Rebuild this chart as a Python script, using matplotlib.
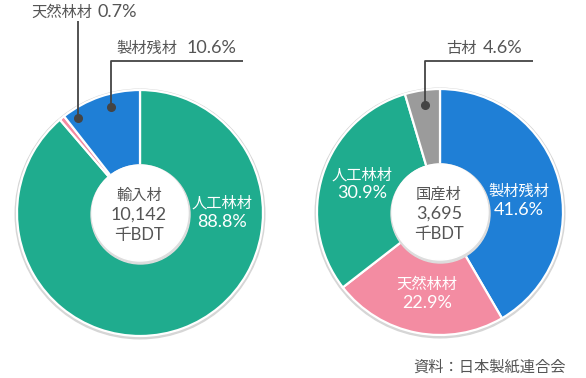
import matplotlib
matplotlib.use("Agg")
import matplotlib.pyplot as plt
from matplotlib.patches import Circle

CJK = ['Noto Sans CJK JP', 'DejaVu Sans']
LAT = ['Lato', 'Noto Sans CJK JP', 'DejaVu Sans']
plt.rcParams['font.family'] = CJK

# ---- data ----
left_labels = ['人工林材', '天然林材', '製材残材']
left_values = [88.8, 0.7, 10.6]
left_name = '輸入材'
left_total = '10,142'

right_labels = ['製材残材', '天然林材', '人工林材', '古材']
right_values = [41.6, 22.9, 30.9, 4.6]
right_name = '国産材'
right_total = '3,695'

unit = '千BDT'
source = '資料：日本製紙連合会'

# ---- style ----
C = {'人工林材': '#1fac8e', '天然林材': '#f38ca2', '製材残材': '#1f7fd6', '古材': '#9b9b9b'}
TXT = '#555555'
LINE = '#444444'
FS_J = 11
FS_N = 13

W, H = 586, 378
fig = plt.figure(figsize=(W / 100, H / 100), dpi=100)
ax = fig.add_axes([0, 0, 1, 1])

R = 123
HOLE = 48


def draw_pie(cx, cy, labels, values, name, total):
    ax.add_patch(Circle((cx, cy - 1), R + 1.8, color='#d6d6d6', zorder=1))
    ax.pie(values, colors=[C[l] for l in labels], startangle=90, counterclock=False,
           center=(cx, cy), radius=R,
           wedgeprops=dict(edgecolor='white', linewidth=1.6, zorder=2), frame=True)
    ax.add_patch(Circle((cx + 0.5, cy - 1.5), HOLE + 1.5, color='#dddddd', zorder=3))
    ax.add_patch(Circle((cx, cy), HOLE, color='white', zorder=4))
    ax.text(cx - 1, cy + 18, name, ha='center', va='center', fontsize=FS_J,
            color=TXT, family=CJK, zorder=5)
    ax.text(cx - 1, cy - 2, total, ha='center', va='center', fontsize=FS_N,
            color=TXT, family=LAT, zorder=5)
    ax.text(cx - 1, cy - 22, unit, ha='center', va='center', fontsize=12,
            color=TXT, family=LAT, zorder=5)


draw_pie(140, 165, left_labels, left_values, left_name, left_total)
draw_pie(440, 166, right_labels, right_values, right_name, right_total)


def inner(x, y, label, value, gap=19):
    ax.text(x, y + gap / 2, label, ha='center', va='center', fontsize=FS_J,
            color='white', family=CJK, zorder=5)
    ax.text(x, y - gap / 2, f'{value:.1f}%', ha='center', va='center', fontsize=FS_N,
            color='white', family=LAT, zorder=5)


inner(222, 165.5, left_labels[0], left_values[0])
inner(519, 177.5, right_labels[0], right_values[0])
inner(427, 84.5, right_labels[1], right_values[1])
inner(362, 194, right_labels[2], right_values[2], gap=18)


def callout(pts, label, value, tx, nx, ty):
    xs = [p[0] for p in pts]
    ys = [p[1] for p in pts]
    ax.plot(xs, ys, color=LINE, lw=1.3, zorder=6, solid_capstyle='butt')
    ax.plot([xs[0]], [ys[0]], 'o', color=LINE, ms=5.5, zorder=7)
    ax.text(tx, ty, label, ha='left', va='center', fontsize=FS_J, color=TXT,
            family=CJK, zorder=7)
    ax.text(nx, ty, f'{value:.1f}%', ha='left', va='center', fontsize=FS_N, color=TXT,
            family=LAT, zorder=7)


callout([(78, 378 - 118), (78, 378 - 21)], left_labels[1], left_values[1], 31, 97, 366)
callout([(111, 378 - 107), (111, 378 - 61), (243, 378 - 61)],
        left_labels[2], left_values[2], 116, 187, 330)
callout([(425, 378 - 105), (425, 378 - 61), (533, 378 - 61)],
        right_labels[3], right_values[3], 446, 483, 330)

ax.text(566, 11, source, ha='right', va='center', fontsize=FS_J, color=TXT, family=CJK)

ax.set_xlim(0, W)
ax.set_ylim(0, H)
ax.set_aspect('auto')
ax.axis('off')

fig.savefig('out.png', dpi=100, facecolor='white')
